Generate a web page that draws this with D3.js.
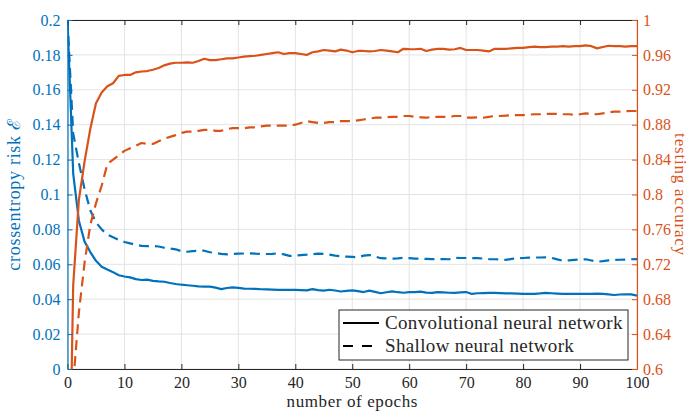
<!DOCTYPE html>
<html>
<head>
<meta charset="UTF-8">
<script src="https://cdnjs.cloudflare.com/ajax/libs/d3/7.8.5/d3.min.js"></script>
<style>
  body { margin: 0; background: #fff; }
</style>
</head>
<body>
<div id="chart"></div>
<script>
// epochs 0..100
const epochs = d3.range(0, 101);

// crossentropy risk, convolutional network
const cnnRisk = [0.2, 0.112, 0.085, 0.073, 0.067, 0.062, 0.0586, 0.057, 0.0555, 0.0537,
  0.053, 0.0525, 0.0515, 0.051, 0.0512, 0.0505, 0.0502, 0.05, 0.0493, 0.0487,
  0.0483, 0.048, 0.0477, 0.0474, 0.0472, 0.0472, 0.0466, 0.0458, 0.0464, 0.0468,
  0.0465, 0.0461, 0.046, 0.0459, 0.0457, 0.0456, 0.0455, 0.0453, 0.0453, 0.0453,
  0.0453, 0.0452, 0.0451, 0.0458, 0.0452, 0.0449, 0.0454, 0.045, 0.0444, 0.0448,
  0.0451, 0.0446, 0.0441, 0.0449, 0.0442, 0.0434, 0.044, 0.0445, 0.044, 0.0437,
  0.044, 0.0441, 0.0443, 0.0438, 0.0436, 0.0441, 0.0439, 0.0437, 0.0436, 0.0439,
  0.0441, 0.043, 0.0434, 0.0435, 0.0436, 0.0436, 0.0435, 0.0433, 0.0433, 0.0432,
  0.0431, 0.043, 0.0431, 0.0433, 0.0436, 0.0434, 0.0432, 0.043, 0.043, 0.043,
  0.043, 0.043, 0.0431, 0.0432, 0.043, 0.0428, 0.0424, 0.0427, 0.0428, 0.0428, 0.042];

// crossentropy risk, shallow network
const shallowRisk = [0.2, 0.135, 0.118, 0.103, 0.091, 0.084, 0.08, 0.077, 0.0755, 0.074,
  0.0728, 0.072, 0.0712, 0.0706, 0.0704, 0.0705, 0.0702, 0.0695, 0.069, 0.0686,
  0.0675, 0.0672, 0.0676, 0.0678, 0.0678, 0.0669, 0.0665, 0.066, 0.0657, 0.066,
  0.0661, 0.0662, 0.0663, 0.0661, 0.066, 0.0659, 0.066, 0.0663, 0.0657, 0.0648,
  0.065, 0.0653, 0.0655, 0.0658, 0.0661, 0.066, 0.0655, 0.065, 0.0646, 0.0644,
  0.0642, 0.064, 0.065, 0.0653, 0.0645, 0.0635, 0.0634, 0.0633, 0.0634, 0.0637,
  0.0635, 0.0633, 0.0632, 0.0631, 0.063, 0.063, 0.063, 0.0629, 0.0637, 0.0636,
  0.0636, 0.0636, 0.0635, 0.0633, 0.063, 0.0629, 0.0628, 0.0625, 0.0631, 0.0634,
  0.0636, 0.0638, 0.0639, 0.0639, 0.064, 0.0637, 0.0628, 0.062, 0.0622, 0.0625,
  0.0628, 0.0629, 0.0622, 0.0615, 0.0618, 0.0622, 0.0625, 0.0626, 0.0627, 0.0629, 0.063];

// testing accuracy, convolutional network
const cnnAcc = [0.33, 0.696, 0.794, 0.838, 0.875, 0.9045, 0.917, 0.924, 0.9275, 0.936,
  0.937, 0.937, 0.94, 0.941, 0.9415, 0.943, 0.945, 0.948, 0.95, 0.951,
  0.951, 0.9515, 0.951, 0.953, 0.9556, 0.954, 0.954, 0.955, 0.956, 0.956,
  0.957, 0.958, 0.9585, 0.959, 0.96, 0.961, 0.962, 0.963, 0.961, 0.962,
  0.962, 0.961, 0.96, 0.963, 0.964, 0.9656, 0.965, 0.964, 0.966, 0.965,
  0.963, 0.9645, 0.9645, 0.964, 0.9645, 0.9656, 0.965, 0.964, 0.963, 0.967,
  0.9666, 0.9665, 0.967, 0.9645, 0.966, 0.967, 0.967, 0.966, 0.9665, 0.968,
  0.9656, 0.9656, 0.9656, 0.965, 0.964, 0.967, 0.967, 0.967, 0.9675, 0.968,
  0.968, 0.969, 0.9695, 0.969, 0.969, 0.9695, 0.9695, 0.97, 0.9695, 0.97,
  0.97, 0.971, 0.97, 0.9675, 0.969, 0.9705, 0.97, 0.97, 0.9695, 0.97, 0.97];

// testing accuracy, shallow network
const shallowAcc = [0.2, 0.584, 0.665, 0.722, 0.765, 0.79, 0.81, 0.835, 0.84, 0.845,
  0.85, 0.853, 0.856, 0.859, 0.858, 0.858, 0.861, 0.864, 0.866, 0.868,
  0.8705, 0.872, 0.872, 0.873, 0.874, 0.874, 0.873, 0.873, 0.875, 0.876,
  0.876, 0.876, 0.877, 0.877, 0.878, 0.879, 0.879, 0.879, 0.879, 0.879,
  0.88, 0.882, 0.884, 0.883, 0.882, 0.882, 0.883, 0.883, 0.884, 0.884,
  0.884, 0.885, 0.886, 0.887, 0.888, 0.888, 0.8885, 0.889, 0.889, 0.89,
  0.89, 0.889, 0.8885, 0.888, 0.889, 0.889, 0.889, 0.889, 0.89, 0.89,
  0.888, 0.888, 0.8885, 0.888, 0.889, 0.89, 0.89, 0.8905, 0.891, 0.891,
  0.891, 0.8915, 0.892, 0.892, 0.8925, 0.8925, 0.8925, 0.892, 0.892, 0.8915,
  0.892, 0.893, 0.8925, 0.892, 0.893, 0.894, 0.895, 0.895, 0.8955, 0.8957, 0.8957];

const xTicks = d3.range(0, 101, 10);
const riskTicks = d3.range(0, 0.2001, 0.02);
const accTicks = d3.range(0.6, 1.0001, 0.04);

const legendLabels = ["Convolutional neural network", "Shallow neural network"];

const blue = "#0072BD", orange = "#D95319";
const serif = "'Liberation Serif', 'Times New Roman', 'DejaVu Serif', serif";

const W = 689, H = 412;
const margin = { top: 20, right: 52, bottom: 43, left: 67.5 };
const width = W - margin.left - margin.right;
const height = H - margin.top - margin.bottom;

const svg = d3.select("#chart").append("svg")
  .attr("width", W).attr("height", H);

const g = svg.append("g")
  .attr("transform", `translate(${margin.left},${margin.top})`);

const x = d3.scaleLinear().domain([0, 100]).range([0, width]);
const yL = d3.scaleLinear().domain([0, 0.2]).range([height, 0]);
const yR = d3.scaleLinear().domain([0.6, 1]).range([height, 0]);

// grid
g.append("g").selectAll("line").data(xTicks).join("line")
  .attr("x1", d => x(d)).attr("x2", d => x(d))
  .attr("y1", 0).attr("y2", height)
  .attr("stroke", "#e3e3e3").attr("stroke-width", 1);
g.append("g").selectAll("line").data(riskTicks).join("line")
  .attr("x1", 0).attr("x2", width)
  .attr("y1", d => yL(d)).attr("y2", d => yL(d))
  .attr("stroke", "#e3e3e3").attr("stroke-width", 1);

// clip
svg.append("defs").append("clipPath").attr("id", "clip")
  .append("rect").attr("width", width).attr("height", height);

const plot = g.append("g").attr("clip-path", "url(#clip)");

const lineL = d3.line().x((d, i) => x(epochs[i])).y(d => yL(d));
const lineR = d3.line().x((d, i) => x(epochs[i])).y(d => yR(d));

const series = [
  { data: cnnRisk, line: lineL, color: blue, dash: null },
  { data: shallowRisk, line: lineL, color: blue, dash: "10,6" },
  { data: cnnAcc, line: lineR, color: orange, dash: null },
  { data: shallowAcc, line: lineR, color: orange, dash: "10,6" }
];

series.forEach(s => {
  plot.append("path")
    .attr("d", s.line(s.data))
    .attr("fill", "none")
    .attr("stroke", s.color)
    .attr("stroke-width", 2.2)
    .attr("stroke-linejoin", "round")
    .attr("stroke-dasharray", s.dash);
});

// axes
const tickFont = 16;
const fmt = d => d3.format("~g")(+d.toFixed(2));

function styleText(sel, color, size, spacing) {
  sel.attr("fill", color)
    .style("font-family", serif)
    .style("font-size", size + "px")
    .style("letter-spacing", (spacing || 0) + "px");
}

const axBottom = g.append("g")
  .attr("transform", `translate(0,${height})`)
  .call(d3.axisBottom(x).tickValues(xTicks).tickSizeInner(-5).tickSizeOuter(0).tickPadding(8));
axBottom.select(".domain").attr("stroke", "#262626");
axBottom.selectAll(".tick line").attr("stroke", "#262626");
styleText(axBottom.selectAll("text"), "#262626", tickFont);

const axTop = g.append("g")
  .call(d3.axisTop(x).tickValues(xTicks).tickSizeInner(-5).tickSizeOuter(0).tickFormat(""));
axTop.select(".domain").attr("stroke", "#262626");
axTop.selectAll(".tick line").attr("stroke", "#262626");

const axLeft = g.append("g")
  .call(d3.axisLeft(yL).tickValues(riskTicks).tickSizeInner(-5).tickSizeOuter(0)
    .tickPadding(7).tickFormat(fmt));
axLeft.select(".domain").attr("stroke", blue).attr("stroke-width", 1.2);
axLeft.selectAll(".tick line").attr("stroke", blue);
styleText(axLeft.selectAll("text"), blue, tickFont);

const axRight = g.append("g")
  .attr("transform", `translate(${width},0)`)
  .call(d3.axisRight(yR).tickValues(accTicks).tickSizeInner(-5).tickSizeOuter(0)
    .tickPadding(6).tickFormat(fmt));
axRight.select(".domain").attr("stroke", orange).attr("stroke-width", 1.2);
axRight.selectAll(".tick line").attr("stroke", orange);
styleText(axRight.selectAll("text"), orange, tickFont);

// axis labels
styleText(svg.append("text")
  .attr("x", margin.left + width / 2).attr("y", 407)
  .attr("text-anchor", "middle")
  .text("number of epochs"), "#262626", 17, 0.6);

styleText(svg.append("text")
  .attr("transform", `translate(20,${margin.top + height / 2}) rotate(-90)`)
  .attr("text-anchor", "middle")
  .text("crossentropy risk \u2130"), blue, 18, 0.7);

styleText(svg.append("text")
  .attr("transform", `translate(675,${margin.top + height / 2}) rotate(90)`)
  .attr("text-anchor", "middle")
  .text("testing accuracy"), orange, 17, 0.8);

// legend
const lg = g.append("g").attr("transform", `translate(${339 - margin.left},${310 - margin.top})`);
lg.append("rect")
  .attr("width", 289).attr("height", 50)
  .attr("fill", "#fff").attr("stroke", "#262626").attr("stroke-width", 1);

legendLabels.forEach((lab, i) => {
  const yy = 13 + i * 23;
  lg.append("line")
    .attr("x1", 4).attr("x2", 40).attr("y1", yy).attr("y2", yy)
    .attr("stroke", "#000").attr("stroke-width", 2.2)
    .attr("stroke-dasharray", i === 1 ? "10,9" : null);
  styleText(lg.append("text")
    .attr("x", 46).attr("y", yy + 5.5)
    .text(lab), "#262626", 19, 0.35);
});
</script>
</body>
</html>
